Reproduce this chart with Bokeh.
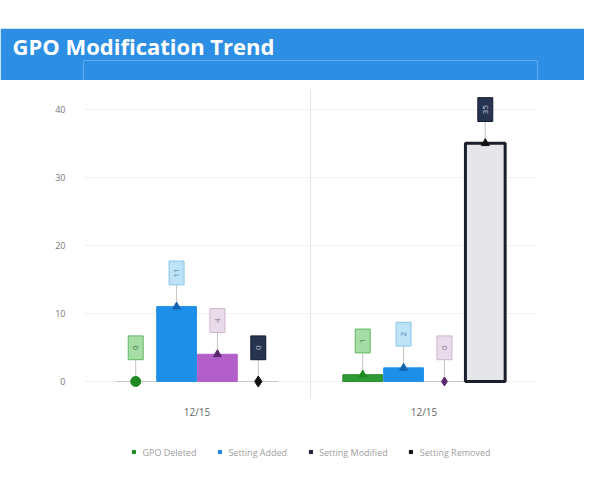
from bokeh.plotting import figure
from bokeh.models import (ColumnDataSource, FixedTicker, Legend, LegendItem, Range1d, Spacer)
from bokeh.layouts import column
from bokeh.embed import file_html
from bokeh.resources import INLINE
from bokeh.core.properties import value
import math

# ---- data ----
title_text = "GPO Modification Trend"
dates = ["12/15", "12/15"]
series = ["GPO Deleted", "Setting Added", "Setting Modified", "Setting Removed"]
gpo_deleted = [0, 1]
setting_added = [11, 2]
setting_modified = [4, 0]
setting_removed = [0, 35]
y_ticks = [0, 10, 20, 30, 40]

values = [gpo_deleted, setting_added, setting_modified, setting_removed]

# ---- styles ----
W = 584
fill_colors = ["#2f9a33", "#1e8fe8", "#b35fc9", "#e6e6ea"]
line_colors = ["#2a8a2e", "#1e8fe8", "#b35fc9", "#1b1f2d"]
line_widths = [1, 1, 1, 3]
marker_colors = ["#1f8a22", "#1562b0", "#5b2a6e", "#111111"]
zero_markers = ["circle", "circle", "diamond", "diamond"]
zero_sizes = [10, 9, 9, 11]
box_fill = ["#a6dca6", "#bfe3f6", "#e9dbe9", "#27344f"]
box_line = ["#62b862", "#86c6e8", "#cdb3cd", "#131b30"]
box_text = ["#2d6e2d", "#3a7aa6", "#8a6a8a", "#c8d0e0"]
legend_colors = ["#1f8a22", "#1c7fe0", "#241a3a", "#111111"]
offsets = [-0.27, -0.09, 0.09, 0.27]
bar_w = 0.175
stem = 3.2
box_h = 3.5
box_w = 0.066
group_x = [0.5, 1.5]
LEFT, RIGHT = 83, W - 537
HEADER_BLUE = "#2d8fe3"

# ---- header band ----
hf = figure(width=W, height=52, output_backend="svg", toolbar_location=None,
            x_range=Range1d(0, 1), y_range=Range1d(0, 1),
            x_axis_location=None, y_axis_location=None,
            min_border_left=LEFT, min_border_right=RIGHT, min_border_top=0,
            min_border_bottom=0, title=title_text)
hf.grid.visible = False
hf.outline_line_color = None
hf.background_fill_color = HEADER_BLUE
hf.border_fill_color = HEADER_BLUE
hf.title.text_color = "white"
hf.title.text_font = "Open Sans"
hf.title.text_font_size = "22px"
hf.title.text_font_style = "bold"
hf.title.align = "left"
hf.title.offset = -(LEFT - 12)
hf.title.standoff = 0

# ---- main chart ----
p = figure(width=W, height=341, output_backend="svg", toolbar_location=None,
           x_range=Range1d(0, 2), y_range=Range1d(-2.5, 42.9),
           min_border_left=LEFT, min_border_right=RIGHT, min_border_top=9,
           min_border_bottom=0)
p.outline_line_color = None
p.background_fill_color = "white"
p.border_fill_color = "white"

p.yaxis.ticker = FixedTicker(ticks=y_ticks)
p.yaxis.axis_line_color = None
p.yaxis.major_tick_line_color = None
p.yaxis.minor_tick_line_color = None
p.yaxis.major_label_standoff = 12
p.yaxis.major_label_text_font = "Open Sans"
p.yaxis.major_label_text_font_size = "9px"
p.yaxis.major_label_text_color = "#777777"

p.xaxis.ticker = FixedTicker(ticks=group_x)
p.xaxis.major_label_overrides = {group_x[i]: dates[i] for i in range(len(dates))}
p.xaxis.axis_line_color = None
p.xaxis.major_tick_line_color = None
p.xaxis.minor_tick_line_color = None
p.xaxis.major_label_standoff = 0
p.xaxis.major_label_text_font = "Open Sans"
p.xaxis.major_label_text_font_size = "10px"
p.xaxis.major_label_text_color = "#666666"

p.xgrid.ticker = FixedTicker(ticks=[0, 1, 2])
p.xgrid.grid_line_color = "#e6e6e6"
p.ygrid.grid_line_color = "#f2f2f2"

# ---- legend strip ----
lf = figure(width=W, height=61, output_backend="svg", toolbar_location=None,
            x_range=Range1d(0, 1), y_range=Range1d(0, 1),
            x_axis_location=None, y_axis_location=None,
            min_border_left=LEFT, min_border_right=RIGHT, min_border_top=0,
            min_border_bottom=0)
lf.grid.visible = False
lf.outline_line_color = None
lf.border_fill_color = "white"

legend_items = []
for i, name in enumerate(series):
    xs = [g + offsets[i] for g in group_x]
    vals = values[i]
    src = ColumnDataSource(dict(
        x=xs, top=vals,
        stem_top=[v + stem for v in vals],
        box_y=[v + stem + box_h / 2 for v in vals],
        label=[str(v) for v in vals],
        marker=[zero_markers[i] if v == 0 else "triangle" for v in vals],
        msize=[zero_sizes[i] if v == 0 else 8 for v in vals],
        lcol=["#c8c8c8" if v == 0 else line_colors[i] for v in vals],
        lw=[1 if v == 0 else line_widths[i] for v in vals],
    ))
    p.vbar(x="x", top="top", bottom=0, width=bar_w, source=src,
           fill_color=fill_colors[i], line_color="lcol", line_width="lw")
    p.segment(x0="x", y0="top", x1="x", y1="stem_top", source=src,
              line_color="#c4c4c4", line_width=1)
    p.scatter(x="x", y="top", marker="marker", source=src, size="msize",
              fill_color=marker_colors[i], line_color=marker_colors[i])
    p.rect(x="x", y="box_y", width=box_w, height=box_h, source=src,
           fill_color=box_fill[i], line_color=box_line[i], line_width=1)
    p.text(x="x", y="box_y", text="label", source=src, angle=math.pi / 2,
           text_align="center", text_baseline="middle",
           text_font=value("Open Sans"), text_font_size="8px",
           text_color=box_text[i])
    proxy = lf.scatter(x=[-5], y=[-5], marker="square", size=7,
                       fill_color=legend_colors[i], line_color=legend_colors[i])
    legend_items.append(LegendItem(label=name, renderers=[proxy]))

legend = Legend(items=legend_items, orientation="horizontal", location="center",
                label_text_font="Open Sans", label_text_font_size="9px",
                label_text_color="#a0a0a0", glyph_width=8, glyph_height=8,
                spacing=19, label_standoff=5, border_line_color=None,
                background_fill_alpha=0, margin=0)
lf.add_layout(legend, "center")

layout = column(Spacer(width=W, height=28), hf, p, lf)
open("out.html", "w").write(file_html(layout, INLINE))
